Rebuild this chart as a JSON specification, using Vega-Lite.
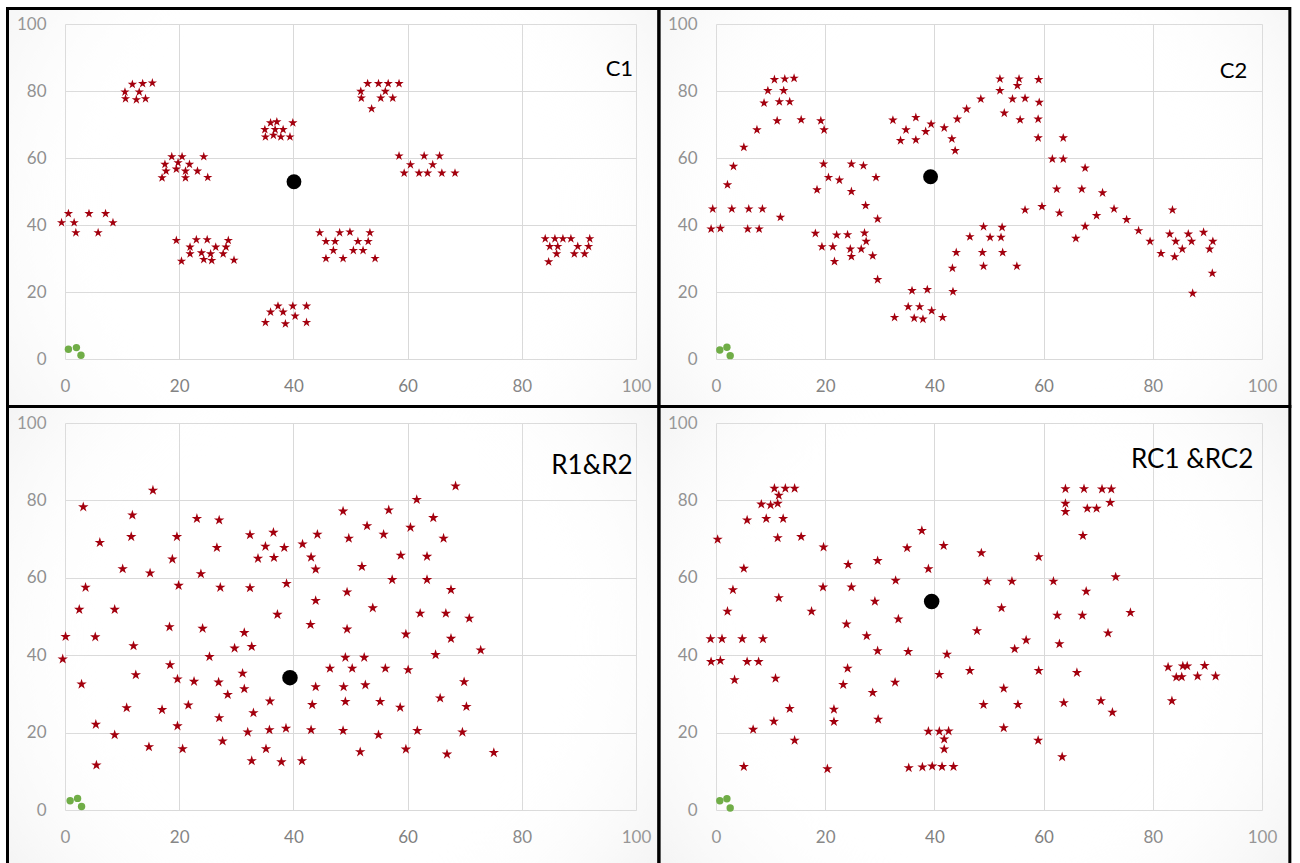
{
"$schema": "https://vega.github.io/schema/vega-lite/v6.json",
"background": "white",
"autosize": {"type": "pad"},
"padding": {"left": 6, "top": 6, "right": 8.5, "bottom": -3},
"columns": 2,
"spacing": {"row": 64, "column": 80},
"bounds": "flush",
"datasets": {
"c1": [{"x":11.8,"y":82},{"x":13.6,"y":82.2},{"x":15.3,"y":82.4},{"x":10.5,"y":79.7},{"x":13,"y":79.7},{"x":10.6,"y":77.7},{"x":12.5,"y":77.4},{"x":14.1,"y":77.7},
{"x":36,"y":70.5},{"x":37.1,"y":70.8},{"x":39.9,"y":70.5},{"x":35,"y":68.5},{"x":36.8,"y":68.5},{"x":38.2,"y":68.5},{"x":35.1,"y":66.3},{"x":36.5,"y":66.8},{"x":37.8,"y":66.3},{"x":39.4,"y":66.3},
{"x":18.7,"y":60.4},{"x":20.5,"y":60.4},{"x":24.3,"y":60.4},{"x":17.5,"y":58.1},{"x":19.8,"y":58.6},{"x":21.8,"y":58.1},{"x":17.7,"y":56.1},{"x":19.5,"y":56.7},{"x":21.1,"y":56.1},{"x":23.2,"y":56.1},{"x":17,"y":54.1},{"x":21.1,"y":54.1},{"x":25,"y":54.2},
{"x":0.6,"y":43.4},{"x":4.2,"y":43.4},{"x":7.1,"y":43.4},{"x":-0.6,"y":40.7},{"x":1.6,"y":40.7},{"x":8.4,"y":40.7},{"x":1.9,"y":37.7},{"x":5.8,"y":37.7},
{"x":19.5,"y":35.4},{"x":23,"y":35.6},{"x":24.9,"y":35.6},{"x":28.6,"y":35.4},{"x":21.9,"y":33.4},{"x":26.4,"y":33.4},{"x":28.2,"y":33.4},{"x":21.9,"y":31.4},{"x":23.9,"y":31.7},{"x":25.5,"y":31.4},{"x":27.7,"y":31.4},{"x":20.4,"y":29.2},{"x":24.3,"y":29.7},{"x":25.7,"y":29.4},{"x":29.6,"y":29.5},
{"x":37.3,"y":15.8},{"x":39.9,"y":15.8},{"x":42.3,"y":15.8},{"x":36,"y":14},{"x":38.2,"y":14},{"x":40.3,"y":12.8},{"x":35.1,"y":10.9},{"x":38.6,"y":10.5},{"x":42.3,"y":10.9},
{"x":53,"y":82.2},{"x":54.9,"y":82.2},{"x":56.6,"y":82.2},{"x":58.5,"y":82.2},{"x":51.8,"y":79.9},{"x":56.1,"y":79.9},{"x":51.9,"y":77.9},{"x":55.3,"y":77.9},{"x":57.4,"y":77.9},{"x":53.7,"y":74.7},
{"x":58.5,"y":60.6},{"x":62.9,"y":60.6},{"x":65.6,"y":60.6},{"x":60.5,"y":58},{"x":64.4,"y":58},{"x":59.4,"y":55.5},{"x":62,"y":55.5},{"x":63.5,"y":55.5},{"x":66,"y":55.5},{"x":68.3,"y":55.5},
{"x":44.6,"y":37.7},{"x":48.1,"y":37.7},{"x":49.9,"y":37.9},{"x":53.4,"y":37.7},{"x":45.7,"y":35.1},{"x":47.3,"y":35.1},{"x":51.3,"y":35.1},{"x":53.1,"y":35.1},{"x":47,"y":32.4},{"x":50.5,"y":32.4},{"x":52.2,"y":32.4},{"x":45.7,"y":30},{"x":48.7,"y":30},{"x":54.3,"y":30},
{"x":84.1,"y":35.9},{"x":85.8,"y":35.9},{"x":87.2,"y":35.9},{"x":88.6,"y":35.9},{"x":91.9,"y":35.9},{"x":84.9,"y":33.6},{"x":86.3,"y":33.6},{"x":89.8,"y":33.6},{"x":91.7,"y":33.6},{"x":86.1,"y":31.4},{"x":89.2,"y":31.4},{"x":91,"y":31.4},{"x":84.7,"y":29}],
"c2": [{"x":10.7,"y":83.4},{"x":12.6,"y":83.6},{"x":14.3,"y":83.8},{"x":9.5,"y":80.1},{"x":12.4,"y":80.1},{"x":8.8,"y":76.4},{"x":11.6,"y":76.8},{"x":13.5,"y":76.8},{"x":11.2,"y":71.1},{"x":15.6,"y":71.4},{"x":19.2,"y":71.1},{"x":19.8,"y":68.4},{"x":7.5,"y":68.4},{"x":5.1,"y":63.2},{"x":3.2,"y":57.5},{"x":2.1,"y":52},
{"x":-0.6,"y":44.8},{"x":2.9,"y":44.8},{"x":6,"y":44.8},{"x":8.5,"y":44.8},{"x":-0.9,"y":38.8},{"x":0.8,"y":39},{"x":5.8,"y":38.8},{"x":7.9,"y":38.8},{"x":11.8,"y":42.3},
{"x":19.7,"y":58.2},{"x":24.8,"y":58.2},{"x":27,"y":57.7},{"x":20.6,"y":54.2},{"x":22.6,"y":53.4},{"x":29.3,"y":54.2},{"x":18.5,"y":50.5},{"x":24.8,"y":50},{"x":27.4,"y":45.8},{"x":29.6,"y":41.8},{"x":18.2,"y":37.5},{"x":22.1,"y":37},{"x":24.1,"y":37.1},{"x":27.2,"y":37.6},{"x":27.5,"y":35.1},{"x":19.4,"y":33.5},{"x":21.4,"y":33.5},{"x":24.6,"y":32.8},{"x":26.6,"y":32.8},{"x":24.8,"y":30.6},{"x":28.7,"y":30.8},{"x":21.7,"y":29.1},{"x":29.6,"y":23.7},
{"x":35.9,"y":20.4},{"x":38.7,"y":20.7},{"x":35.2,"y":15.6},{"x":37.3,"y":15.6},{"x":39.5,"y":14.4},{"x":32.7,"y":12.4},{"x":36.3,"y":12.2},{"x":37.9,"y":11.9},{"x":41.5,"y":12.4},{"x":43.4,"y":20.1},
{"x":32.4,"y":71.3},{"x":36.6,"y":72.1},{"x":33.8,"y":65.2},{"x":36.6,"y":65.4},{"x":34.8,"y":68.4},{"x":38.4,"y":67.9},{"x":39.4,"y":70.1},{"x":41.8,"y":69},{"x":44.2,"y":71.6},{"x":43.2,"y":65.7},{"x":43.8,"y":62.2},{"x":45.9,"y":74.6},{"x":48.5,"y":77.6},
{"x":49,"y":39.5},{"x":46.5,"y":36.5},{"x":44,"y":31.8},{"x":43.3,"y":27.1},{"x":48.8,"y":31.8},{"x":49,"y":27.7},
{"x":52,"y":83.6},{"x":55.5,"y":83.6},{"x":59.1,"y":83.4},{"x":52,"y":80.1},{"x":55.2,"y":81.6},{"x":54.3,"y":77.6},{"x":56.6,"y":77.8},{"x":59.2,"y":76.6},{"x":52.8,"y":73.4},{"x":55.7,"y":71.4},{"x":59,"y":71.6},{"x":59,"y":66},{"x":63.6,"y":66},{"x":61.6,"y":59.7},{"x":63.6,"y":59.7},{"x":67.6,"y":57},{"x":62.4,"y":50.7},{"x":67,"y":50.7},{"x":70.8,"y":49.6},{"x":56.6,"y":44.5},{"x":59.7,"y":45.5},{"x":62.9,"y":43.6},{"x":69.7,"y":42.8},{"x":72.9,"y":44.8},{"x":67.6,"y":39.6},{"x":65.9,"y":36},{"x":75.2,"y":41.6},{"x":77.4,"y":38.3},{"x":79.5,"y":35.1},{"x":81.5,"y":31.5},{"x":83.6,"y":44.5},{"x":83.1,"y":37.3},{"x":84.2,"y":35.1},{"x":84,"y":30.5},{"x":85.4,"y":32.8},{"x":86.5,"y":37.3},{"x":87.1,"y":35.1},{"x":89.3,"y":37.8},{"x":91,"y":35.1},{"x":90.4,"y":32.8},{"x":90.9,"y":25.6},{"x":87.3,"y":19.6},
{"x":52.4,"y":39.3},{"x":50.2,"y":36.3},{"x":52.2,"y":36.3},{"x":52.5,"y":31.8},{"x":55.1,"y":27.7}],
"r": [{"x":15.4,"y":82.6},{"x":3.2,"y":78.3},{"x":11.8,"y":76.2},{"x":23.1,"y":75.3},{"x":27,"y":74.9},{"x":11.6,"y":70.6},{"x":19.6,"y":70.6},{"x":6.1,"y":69.1},{"x":32.4,"y":71.1},{"x":36.5,"y":71.7},{"x":35.1,"y":68.1},{"x":38.4,"y":67.8},{"x":41.6,"y":68.7},{"x":44.2,"y":71.2},{"x":26.6,"y":67.8},{"x":33.8,"y":65},{"x":36.6,"y":65.2},{"x":43.1,"y":65.3},{"x":43.9,"y":62.2},{"x":18.8,"y":64.8},{"x":10.1,"y":62.3},{"x":14.9,"y":61.2},{"x":23.8,"y":61},{"x":19.9,"y":58},{"x":3.6,"y":57.5},{"x":27.2,"y":57.5},{"x":32.4,"y":57.4},{"x":38.8,"y":58.5},{"x":43.9,"y":54.1},{"x":2.5,"y":51.8},{"x":8.7,"y":51.8},{"x":37.2,"y":50.5},{"x":43,"y":47.9},{"x":18.3,"y":47.3},{"x":24.1,"y":46.9},{"x":31.4,"y":45.8},{"x":0.1,"y":44.8},{"x":5.3,"y":44.7},{"x":12,"y":42.4},{"x":29.7,"y":41.8},{"x":32.7,"y":42.2},{"x":25.3,"y":39.6},{"x":-0.4,"y":39},{"x":18.4,"y":37.5},{"x":31.1,"y":35.3},{"x":12.4,"y":34.9},{"x":46.4,"y":36.6},{"x":2.9,"y":32.5},{"x":19.7,"y":33.8},{"x":22.6,"y":33.2},{"x":26.9,"y":33},{"x":43.9,"y":31.8},{"x":31.4,"y":31.3},{"x":28.5,"y":29.8},{"x":35.9,"y":28.1},{"x":43.3,"y":27.2},{"x":10.8,"y":26.4},{"x":17,"y":25.9},{"x":21.6,"y":27.1},{"x":33,"y":25.1},{"x":27,"y":23.8},{"x":5.4,"y":22.1},{"x":19.7,"y":21.7},{"x":8.7,"y":19.4},{"x":32,"y":20.1},{"x":35.8,"y":20.7},{"x":38.7,"y":21.1},{"x":43.1,"y":20.7},{"x":27.6,"y":17.8},{"x":14.7,"y":16.3},{"x":20.6,"y":15.8},{"x":35.2,"y":15.8},{"x":5.5,"y":11.6},{"x":32.7,"y":12.7},{"x":37.9,"y":12.4},{"x":41.5,"y":12.7},
{"x":68.4,"y":83.7},{"x":61.6,"y":80.2},{"x":48.7,"y":77.2},{"x":56.7,"y":77.5},{"x":64.5,"y":75.5},{"x":52.9,"y":73.4},{"x":60.5,"y":73},{"x":55.8,"y":71.2},{"x":49.7,"y":70.2},{"x":66.3,"y":70.2},{"x":58.8,"y":65.8},{"x":63.4,"y":65.5},{"x":52,"y":62.9},{"x":57.3,"y":59.5},{"x":63.4,"y":59.5},{"x":49.4,"y":56.3},{"x":67.6,"y":56.9},{"x":53.9,"y":52.2},{"x":62.2,"y":50.8},{"x":66.7,"y":50.8},{"x":70.8,"y":49.5},{"x":49.4,"y":46.7},{"x":59.7,"y":45.4},{"x":67.6,"y":44.3},{"x":72.8,"y":41.3},{"x":49.1,"y":39.4},{"x":52.4,"y":39.4},{"x":64.9,"y":40.1},{"x":50.3,"y":36.6},{"x":56.1,"y":36.6},{"x":60.1,"y":36.2},{"x":69.9,"y":33.1},{"x":48.8,"y":31.8},{"x":52.6,"y":32.3},{"x":49.1,"y":28},{"x":55.2,"y":28},{"x":58.7,"y":26.5},{"x":65.7,"y":28.9},{"x":70.3,"y":26.7},{"x":48.7,"y":20.5},{"x":54.9,"y":19.4},{"x":61.7,"y":20.5},{"x":69.6,"y":20.1},{"x":51.7,"y":15},{"x":59.7,"y":15.7},{"x":66.9,"y":14.4},{"x":75.1,"y":14.8}],
"rc": [{"x":10.7,"y":83.1},{"x":12.7,"y":83.1},{"x":14.4,"y":83.1},{"x":11.5,"y":81.3},{"x":8.3,"y":79},{"x":10,"y":78.8},{"x":11.3,"y":79.2},{"x":5.7,"y":74.9},{"x":9.2,"y":75.3},{"x":12.3,"y":75.3},{"x":0.3,"y":69.9},{"x":11.3,"y":70.3},{"x":15.6,"y":70.6},{"x":19.7,"y":67.9},{"x":5.1,"y":62.4},{"x":3.1,"y":56.9},{"x":2.1,"y":51.3},{"x":11.5,"y":54.8},{"x":17.5,"y":51.3},{"x":19.6,"y":57.6},{"x":24.2,"y":63.4},{"x":24.8,"y":57.6},{"x":29.6,"y":64.4},{"x":32.9,"y":59.3},{"x":29.1,"y":53.9},{"x":23.9,"y":48},{"x":33.4,"y":49.3},{"x":27.6,"y":45},{"x":29.6,"y":41.1},{"x":35.2,"y":40.9},{"x":35,"y":67.7},{"x":37.7,"y":72.2},{"x":38.9,"y":62.3},{"x":41.7,"y":68.3},{"x":42.3,"y":40.2},{"x":40.9,"y":35},{"x":46.5,"y":36},{"x":47.8,"y":46.3},{"x":48.6,"y":66.4},{"x":49.7,"y":59.1},{"x":49,"y":27.2},
{"x":-1,"y":44.2},{"x":1.1,"y":44.2},{"x":4.8,"y":44.2},{"x":8.6,"y":44.2},{"x":-0.9,"y":38.3},{"x":0.8,"y":38.6},{"x":5.7,"y":38.3},{"x":7.8,"y":38.3},{"x":3.4,"y":33.6},{"x":10.9,"y":34},{"x":24.1,"y":36.6},{"x":23.3,"y":32.4},{"x":28.7,"y":30.3},{"x":32.8,"y":33},{"x":13.5,"y":26.2},{"x":21.6,"y":26},{"x":10.6,"y":22.9},{"x":21.6,"y":22.8},{"x":29.7,"y":23.4},{"x":6.8,"y":20.8},{"x":14.4,"y":18},{"x":5.1,"y":11.2},{"x":20.4,"y":10.6},
{"x":38.9,"y":20.3},{"x":40.9,"y":20.3},{"x":42.6,"y":20.4},{"x":41.8,"y":18.3},{"x":41.8,"y":15.7},{"x":35.3,"y":10.9},{"x":37.8,"y":11.1},{"x":39.6,"y":11.3},{"x":41.4,"y":11.2},{"x":43.5,"y":11.2},
{"x":64,"y":83},{"x":67.4,"y":83},{"x":70.7,"y":82.9},{"x":72.4,"y":82.9},{"x":64,"y":79.2},{"x":64,"y":77.1},{"x":68,"y":77.9},{"x":69.7,"y":77.9},{"x":72.2,"y":79.4},{"x":67.2,"y":70.9},{"x":59.1,"y":65.4},{"x":54.2,"y":59.1},{"x":61.8,"y":59.1},{"x":73.2,"y":60.2},{"x":67.8,"y":56.5},{"x":52.3,"y":52.2},{"x":62.5,"y":50.3},{"x":67.1,"y":50.3},{"x":75.9,"y":51},{"x":56.8,"y":43.9},{"x":54.7,"y":41.6},{"x":62.9,"y":42.9},{"x":71.8,"y":45.7},{"x":59.1,"y":36},{"x":66.1,"y":35.5},{"x":52.7,"y":31.4},{"x":55.3,"y":27.2},{"x":63.7,"y":27.7},{"x":70.5,"y":28.2},{"x":72.6,"y":25.2},{"x":52.7,"y":21.2},{"x":59,"y":18},{"x":63.4,"y":13.7},
{"x":82.8,"y":36.9},{"x":85.5,"y":37.2},{"x":86.3,"y":37.2},{"x":89.5,"y":37.3},{"x":84.3,"y":34.3},{"x":85.3,"y":34.4},{"x":88.2,"y":34.6},{"x":91.5,"y":34.6},{"x":83.5,"y":28.2}],
"depots": [{"panel":"C1","x":40.1,"y":52.9},{"panel":"C2","x":39.3,"y":54.4},{"panel":"R1&R2","x":39.4,"y":34.2},{"panel":"RC1 &RC2","x":39.5,"y":53.9}],
"stations": [{"panel":"C1","x":0.6,"y":2.9},{"panel":"C1","x":2,"y":3.4},{"panel":"C1","x":2.8,"y":1.1},
{"panel":"C2","x":0.7,"y":2.7},{"panel":"C2","x":2,"y":3.5},{"panel":"C2","x":2.6,"y":1},
{"panel":"R1&R2","x":0.9,"y":2.4},{"panel":"R1&R2","x":2.2,"y":3},{"panel":"R1&R2","x":2.9,"y":0.9},
{"panel":"RC1 &RC2","x":0.7,"y":2.4},{"panel":"RC1 &RC2","x":2,"y":2.9},{"panel":"RC1 &RC2","x":2.6,"y":0.5}]
},
"concat": [
{"width": 571, "height": 335, "layer": [
 {"data": {"values": [{}]}, "mark": {"type": "rect", "stroke": "#000000", "strokeWidth": 3, "fill": {"gradient": "radial", "x1": 0.5, "y1": 0.5, "r1": 0, "x2": 0.5, "y2": 0.5, "r2": 0.75, "stops": [{"offset": 0, "color": "rgba(255,255,255,0)"}, {"offset": 0.45, "color": "rgba(255,255,255,0)"}, {"offset": 1, "color": "rgba(200,200,200,0.45)"}]}},
  "encoding": {"x": {"datum": -10.07, "type": "quantitative", "scale": {"domain": [0, 100], "nice": false}, "axis": {"title": null, "values": [0, 20, 40, 60, 80, 100]}}, "x2": {"datum": 104}, "y": {"datum": 104.63, "type": "quantitative", "scale": {"domain": [0, 100], "nice": false}, "axis": {"title": null, "values": [0, 20, 40, 60, 80, 100]}}, "y2": {"datum": -14.18}}},
 {"data": {"name": "c1"}, "mark": {"type": "point", "shape": "M0,-1L0.2245,-0.309L0.951,-0.309L0.363,0.118L0.588,0.809L0,0.382L-0.588,0.809L-0.363,0.118L-0.951,-0.309L-0.2245,-0.309Z", "filled": true, "color": "#a3000e", "size": 95, "opacity": 1},
  "encoding": {"x": {"field": "x", "type": "quantitative", "title": null}, "y": {"field": "y", "type": "quantitative", "title": null}}},
 {"data": {"name": "depots"}, "transform": [{"filter": "datum.panel == 'C1'"}], "mark": {"type": "circle", "color": "#000000", "size": 220, "opacity": 1}, "encoding": {"x": {"field": "x", "type": "quantitative", "title": null}, "y": {"field": "y", "type": "quantitative", "title": null}}},
 {"data": {"name": "stations"}, "transform": [{"filter": "datum.panel == 'C1'"}], "mark": {"type": "circle", "color": "#70ad47", "size": 55, "opacity": 1}, "encoding": {"x": {"field": "x", "type": "quantitative", "title": null}, "y": {"field": "y", "type": "quantitative", "title": null}}},
 {"data": {"values": [{}]}, "mark": {"type": "text", "text": "C1", "align": "right", "baseline": "alphabetic", "font": "Lato", "fontSize": 22, "color": "#000000"}, "encoding": {"x": {"datum": 99.5, "type": "quantitative", "title": null}, "y": {"datum": 84.5, "type": "quantitative", "title": null}}}
]},
{"width": 546, "height": 335, "layer": [
 {"data": {"values": [{}]}, "mark": {"type": "rect", "stroke": "#000000", "strokeWidth": 3, "fill": {"gradient": "radial", "x1": 0.5, "y1": 0.5, "r1": 0, "x2": 0.5, "y2": 0.5, "r2": 0.75, "stops": [{"offset": 0, "color": "rgba(255,255,255,0)"}, {"offset": 0.45, "color": "rgba(255,255,255,0)"}, {"offset": 1, "color": "rgba(200,200,200,0.45)"}]}},
  "encoding": {"x": {"datum": -10.44, "type": "quantitative", "scale": {"domain": [0, 100], "nice": false}, "axis": {"title": null, "values": [0, 20, 40, 60, 80, 100]}}, "x2": {"datum": 105.1}, "y": {"datum": 104.63, "type": "quantitative", "scale": {"domain": [0, 100], "nice": false}, "axis": {"title": null, "values": [0, 20, 40, 60, 80, 100]}}, "y2": {"datum": -14.18}}},
 {"data": {"name": "c2"}, "mark": {"type": "point", "shape": "M0,-1L0.2245,-0.309L0.951,-0.309L0.363,0.118L0.588,0.809L0,0.382L-0.588,0.809L-0.363,0.118L-0.951,-0.309L-0.2245,-0.309Z", "filled": true, "color": "#a3000e", "size": 100, "opacity": 1},
  "encoding": {"x": {"field": "x", "type": "quantitative", "title": null}, "y": {"field": "y", "type": "quantitative", "title": null}}},
 {"data": {"name": "depots"}, "transform": [{"filter": "datum.panel == 'C2'"}], "mark": {"type": "circle", "color": "#000000", "size": 220, "opacity": 1}, "encoding": {"x": {"field": "x", "type": "quantitative", "title": null}, "y": {"field": "y", "type": "quantitative", "title": null}}},
 {"data": {"name": "stations"}, "transform": [{"filter": "datum.panel == 'C2'"}], "mark": {"type": "circle", "color": "#70ad47", "size": 55, "opacity": 1}, "encoding": {"x": {"field": "x", "type": "quantitative", "title": null}, "y": {"field": "y", "type": "quantitative", "title": null}}},
 {"data": {"values": [{}]}, "mark": {"type": "text", "text": "C2", "align": "right", "baseline": "alphabetic", "font": "Lato", "fontSize": 22, "color": "#000000"}, "encoding": {"x": {"datum": 97.3, "type": "quantitative", "title": null}, "y": {"datum": 83.9, "type": "quantitative", "title": null}}}
]},
{"width": 571, "height": 387, "layer": [
 {"data": {"values": [{}]}, "mark": {"type": "rect", "stroke": "#000000", "strokeWidth": 3, "fill": {"gradient": "radial", "x1": 0.5, "y1": 0.5, "r1": 0, "x2": 0.5, "y2": 0.5, "r2": 0.75, "stops": [{"offset": 0, "color": "rgba(255,255,255,0)"}, {"offset": 0.45, "color": "rgba(255,255,255,0)"}, {"offset": 1, "color": "rgba(200,200,200,0.45)"}]}},
  "encoding": {"x": {"datum": -10.07, "type": "quantitative", "scale": {"domain": [0, 100], "nice": false}, "axis": {"title": null, "values": [0, 20, 40, 60, 80, 100]}}, "x2": {"datum": 104}, "y": {"datum": 104.26, "type": "quantitative", "scale": {"domain": [0, 100], "nice": false}, "axis": {"title": null, "values": [0, 20, 40, 60, 80, 100]}}, "y2": {"datum": -14.34}}},
 {"data": {"name": "r"}, "mark": {"type": "point", "shape": "M0,-1L0.2245,-0.309L0.951,-0.309L0.363,0.118L0.588,0.809L0,0.382L-0.588,0.809L-0.363,0.118L-0.951,-0.309L-0.2245,-0.309Z", "filled": true, "color": "#a3000e", "size": 120, "opacity": 1},
  "encoding": {"x": {"field": "x", "type": "quantitative", "title": null}, "y": {"field": "y", "type": "quantitative", "title": null}}},
 {"data": {"name": "depots"}, "transform": [{"filter": "datum.panel == 'R1&R2'"}], "mark": {"type": "circle", "color": "#000000", "size": 240, "opacity": 1}, "encoding": {"x": {"field": "x", "type": "quantitative", "title": null}, "y": {"field": "y", "type": "quantitative", "title": null}}},
 {"data": {"name": "stations"}, "transform": [{"filter": "datum.panel == 'R1&R2'"}], "mark": {"type": "circle", "color": "#70ad47", "size": 55, "opacity": 1}, "encoding": {"x": {"field": "x", "type": "quantitative", "title": null}, "y": {"field": "y", "type": "quantitative", "title": null}}},
 {"data": {"values": [{}]}, "mark": {"type": "text", "text": "R1&R2", "align": "right", "baseline": "alphabetic", "font": "Lato", "fontSize": 26, "color": "#000000"}, "encoding": {"x": {"datum": 99.4, "type": "quantitative", "title": null}, "y": {"datum": 86.7, "type": "quantitative", "title": null}}}
]},
{"width": 546, "height": 387, "layer": [
 {"data": {"values": [{}]}, "mark": {"type": "rect", "stroke": "#000000", "strokeWidth": 3, "fill": {"gradient": "radial", "x1": 0.5, "y1": 0.5, "r1": 0, "x2": 0.5, "y2": 0.5, "r2": 0.75, "stops": [{"offset": 0, "color": "rgba(255,255,255,0)"}, {"offset": 0.45, "color": "rgba(255,255,255,0)"}, {"offset": 1, "color": "rgba(200,200,200,0.45)"}]}},
  "encoding": {"x": {"datum": -10.44, "type": "quantitative", "scale": {"domain": [0, 100], "nice": false}, "axis": {"title": null, "values": [0, 20, 40, 60, 80, 100]}}, "x2": {"datum": 105.1}, "y": {"datum": 104.26, "type": "quantitative", "scale": {"domain": [0, 100], "nice": false}, "axis": {"title": null, "values": [0, 20, 40, 60, 80, 100]}}, "y2": {"datum": -14.34}}},
 {"data": {"name": "rc"}, "mark": {"type": "point", "shape": "M0,-1L0.2245,-0.309L0.951,-0.309L0.363,0.118L0.588,0.809L0,0.382L-0.588,0.809L-0.363,0.118L-0.951,-0.309L-0.2245,-0.309Z", "filled": true, "color": "#a3000e", "size": 115, "opacity": 1},
  "encoding": {"x": {"field": "x", "type": "quantitative", "title": null}, "y": {"field": "y", "type": "quantitative", "title": null}}},
 {"data": {"name": "depots"}, "transform": [{"filter": "datum.panel == 'RC1 &RC2'"}], "mark": {"type": "circle", "color": "#000000", "size": 240, "opacity": 1}, "encoding": {"x": {"field": "x", "type": "quantitative", "title": null}, "y": {"field": "y", "type": "quantitative", "title": null}}},
 {"data": {"name": "stations"}, "transform": [{"filter": "datum.panel == 'RC1 &RC2'"}], "mark": {"type": "circle", "color": "#70ad47", "size": 55, "opacity": 1}, "encoding": {"x": {"field": "x", "type": "quantitative", "title": null}, "y": {"field": "y", "type": "quantitative", "title": null}}},
 {"data": {"values": [{}]}, "mark": {"type": "text", "text": "RC1 &RC2", "align": "right", "baseline": "alphabetic", "font": "Lato", "fontSize": 26, "color": "#000000"}, "encoding": {"x": {"datum": 98.4, "type": "quantitative", "title": null}, "y": {"datum": 88.5, "type": "quantitative", "title": null}}}
]}
],
"config": {
 "view": {"stroke": null},
 "axis": {"grid": true, "gridColor": "#d9d9d9", "gridWidth": 1, "domain": false, "ticks": false, "labelColor": "#7f7f7f", "labelFont": "Lato", "labelFontSize": 17, "labelPadding": 19, "labelFlush": false, "labelOverlap": false}
}
}
